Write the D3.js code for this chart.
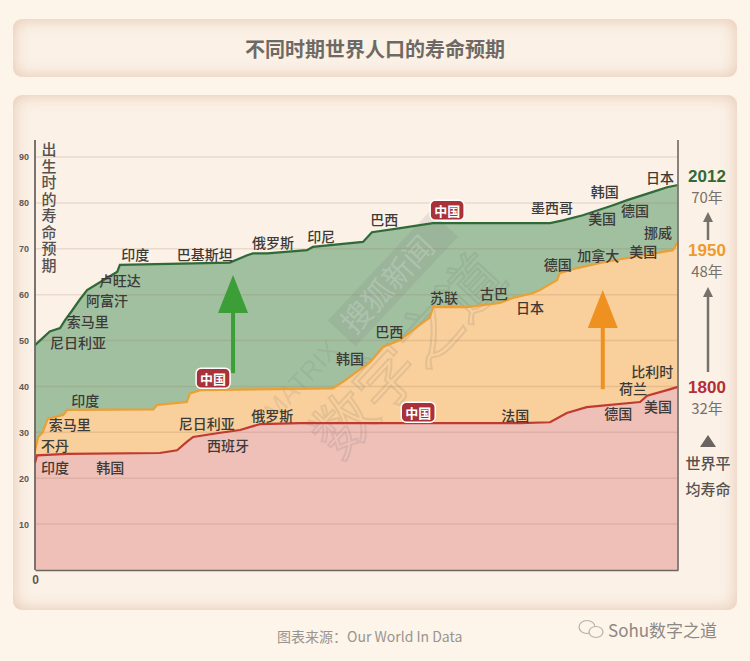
<!DOCTYPE html>
<html>
<head>
<meta charset="UTF-8">
<script src="https://d3js.org/d3.v7.min.js"></script>
<style>
    body {margin:0; background:#fdf4ea; width:750px; height:661px; overflow:hidden;
          font-family:"Noto Sans CJK SC", "Noto Sans", sans-serif;}
    .panel {position:absolute; left:13px; width:724px; border-radius:9px; background:#fbf1e6;
            box-shadow: inset 0 0 16px rgba(214,168,138,0.6);}
    #chart {position:absolute; left:0; top:0;}
    .tick text {font-family:"Liberation Sans", Arial, sans-serif; font-weight:bold; fill:#5f5853;}
    .lbl {font-size:14px; font-weight:500; fill:#3d3a37;}
</style>
</head>
<body>
<div class="panel" style="top:19px;height:58px"></div>
<div class="panel" style="top:95px;height:515px"></div>
<svg id="chart" width="750" height="661"></svg>
<script>
// cumulative share of world population (%) and life expectancy at birth (years)
const share2012 = [0, 2.3, 3.9, 4.7, 5.8, 7.0, 8.1, 10.1, 12.8, 13.2, 30.3, 33.0, 33.9, 36.1, 42.3, 43.2, 51.0, 52.4, 56.8, 61.9, 80.1, 82.1, 85.2, 89.9, 92.1, 96.1, 98.3, 100];
const life2012  = [49, 52, 52.7, 54.5, 56.6, 59, 61, 62.7, 65, 66.5, 67, 68.6, 69, 69, 69.7, 70.4, 71.5, 73.6, 74.5, 75.6, 75.6, 76.2, 77.3, 79.5, 80.6, 82.4, 83.4, 83.9];

const share1950 = [0, 0.5, 1.2, 2.0, 4.4, 5.0, 18.4, 19.0, 23.6, 24.1, 25.7, 46.3, 47.9, 52.1, 54.1, 56.8, 59.4, 61.4, 61.9, 67.2, 72.3, 74.3, 77.4, 78.5, 81.2, 81.6, 84.3, 87.9, 93.0, 99.2, 100];
const life1950  = [26, 29, 30, 33, 33.8, 34.9, 35, 36, 36.6, 38.5, 39.2, 39.6, 41, 45.3, 48.6, 50.1, 53, 55, 57.3, 57.3, 58.2, 59.3, 60.3, 61, 63.2, 64.7, 65.8, 66.9, 68.2, 69.7, 71.5];

const share1800 = [0, 0.3, 5.0, 19.4, 22.1, 23.6, 24.6, 28.3, 31.9, 34.5, 35.0, 41.2, 75.4, 80.1, 82.7, 85.8, 94.1, 95.2, 98.3, 100];
const life1800  = [23.3, 25, 25.3, 25.5, 26.1, 27.9, 29, 29.8, 30.5, 31.6, 31.8, 32, 32, 32.2, 34.2, 35.5, 36.6, 38, 39.2, 39.9];

const yTicks = [10, 20, 30, 40, 50, 60, 70, 80, 90];

// country labels: [name, share, life]
const labels2012 = [["尼日利亚", 6.7, 49.6], ["索马里", 8.2, 54.2], ["阿富汗", 11.2, 58.8], ["卢旺达", 13.2, 63.3],
    ["印度", 15.6, 68.9], ["巴基斯坦", 26.4, 68.9], ["俄罗斯", 37.0, 71.5], ["印尼", 44.5, 72.8], ["巴西", 54.3, 76.5],
    ["墨西哥", 80.4, 79.1], ["韩国", 88.6, 82.6], ["美国", 88.2, 76.7], ["德国", 93.3, 78.4], ["日本", 97.2, 85.6],
    ["挪威", 96.9, 73.7], ["美国", 94.6, 69.5], ["加拿大", 87.6, 68.6], ["德国", 81.3, 66.7]];
const labels1950 = [["日本", 77.0, 57.3], ["苏联", 63.6, 59.5], ["古巴", 71.4, 60.4], ["巴西", 55.1, 52.1], ["韩国", 49.0, 46.2],
    ["印度", 7.8, 37.0], ["索马里", 5.4, 31.8], ["不丹", 3.1, 27.2], ["尼日利亚", 26.7, 32.0], ["俄罗斯", 36.9, 33.8],
    ["法国", 74.7, 33.8], ["比利时", 96.0, 43.4], ["荷兰", 93.0, 39.7], ["德国", 90.7, 34.2], ["美国", 96.9, 35.7]];
const labels1800 = [["印度", 3.1, 22.4], ["韩国", 11.7, 22.4], ["西班牙", 30.0, 27.2]];
const chinaMarks = [[64.1, 78.4], [27.7, 41.8], [59.6, 34.4]];

// arrows: [share, from, to]
const arrowGreen = [30.8, 42.9, 64.3];
const arrowOrange = [88.3, 39.4, 61.0];

const svg = d3.select("#chart");

let x = d3.scaleLinear().domain([0, 100]).range([35, 678]);
let y = d3.scaleLinear().domain([0, 90]).range([570, 157]);

// title
svg.append("text").attr("x", 375).attr("y", 48).attr("text-anchor", "middle")
    .attr("dominant-baseline", "central")
    .style("font-size", "20px").style("font-weight", "bold").style("fill", "#6f6964")
    .text("不同时期世界人口的寿命预期");

function series(sh, lf) { return sh.map((s, i) => [s, lf[i]]); }
const s2012 = series(share2012, life2012),
      s1950 = series(share1950, life1950),
      s1800 = series(share1800, life1800);

let area = d3.area().x(d => x(d[0])).y0(y(0)).y1(d => y(d[1]));
let line = d3.line().x(d => x(d[0])).y(d => y(d[1]));

svg.append("path").attr("d", area(s2012)).attr("fill", "#a1c0a0");
svg.append("path").attr("d", area(s1950)).attr("fill", "#f9cf9b");
svg.append("path").attr("d", area(s1800)).attr("fill", "#efc0b8");

// gridlines
svg.append("g").selectAll("line").data(yTicks).join("line")
    .attr("x1", x(0)).attr("x2", x(100))
    .attr("y1", d => y(d)).attr("y2", d => y(d))
    .attr("stroke", "rgba(140,100,70,0.16)").attr("stroke-width", 1.5);

// watermark
let wm = svg.append("g").attr("transform", "translate(360,330) rotate(-47)").style("pointer-events", "none");
wm.append("text").attr("x", -125).attr("y", 0).style("font-size", "26px").style("fill", "rgba(110,110,110,0.13)")
    .style("font-family", "Liberation Sans").text("MATRIX");
wm.append("rect").attr("x", -15).attr("y", -30).attr("width", 150).attr("height", 38)
    .attr("fill", "rgba(110,110,110,0.13)");
wm.append("text").attr("x", -8).attr("y", 0).style("font-size", "30px").style("fill", "rgba(255,255,255,0.2)")
    .text("搜狐新闻");
wm.append("text").attr("x", -110).attr("y", 75).style("font-size", "62px")
    .style("fill", "none").style("stroke", "rgba(110,110,110,0.16)").style("stroke-width", 2)
    .text("数字之道");

svg.append("path").attr("d", line(s2012)).attr("fill", "none").attr("stroke", "#2f6a37").attr("stroke-width", 2.2);
svg.append("path").attr("d", line(s1950)).attr("fill", "none").attr("stroke", "#e9a035").attr("stroke-width", 2.2);
svg.append("path").attr("d", line(s1800)).attr("fill", "none").attr("stroke", "#bf3a30").attr("stroke-width", 2.2);

// axes
let yAxis = svg.append("g").attr("transform", "translate(29,0)")
    .call(d3.axisLeft(y).tickValues(yTicks).tickSize(0).tickPadding(0));
yAxis.select(".domain").remove();
yAxis.selectAll("text").style("font-size", "9px");

let xAxis = svg.append("g").attr("transform", "translate(0," + y(0) + ")")
    .call(d3.axisBottom(x).tickValues([0]).tickSize(0).tickPadding(5));
xAxis.select(".domain").attr("stroke", "#6d6661").attr("stroke-width", 1.5);
xAxis.selectAll("text").style("font-size", "12px");

svg.append("line").attr("x1", x(0)).attr("x2", x(0)).attr("y1", 140).attr("y2", y(0))
    .attr("stroke", "#6d6661").attr("stroke-width", 1.8);
svg.append("line").attr("x1", x(100)).attr("x2", x(100)).attr("y1", 140).attr("y2", y(0))
    .attr("stroke", "#7d7671").attr("stroke-width", 1.8);

// y axis title, written vertically
svg.append("text").attr("x", 49).attr("y", 142)
    .style("writing-mode", "vertical-rl").style("letter-spacing", "1.5px")
    .style("font-size", "15px").style("font-weight", "500").style("fill", "#57524e")
    .text("出生时的寿命预期");

// arrows
function arrow(a, color) {
    let g = svg.append("g");
    let tip = y(a[2]), xc = x(a[0]);
    g.append("line").attr("x1", xc).attr("x2", xc).attr("y1", y(a[1])).attr("y2", tip + 30)
        .attr("stroke", color).attr("stroke-width", 4);
    g.append("path").attr("d", `M${xc},${tip} L${xc - 15},${tip + 38} L${xc + 15},${tip + 38} Z`).attr("fill", color);
}
arrow(arrowGreen, "#3c9e37");
arrow(arrowOrange, "#ef9120");

// country labels
[labels2012, labels1950, labels1800].forEach(set => {
    svg.append("g").selectAll("text").data(set).join("text")
        .attr("class", "lbl")
        .attr("x", d => x(d[1])).attr("y", d => y(d[2]))
        .attr("text-anchor", "middle").attr("dominant-baseline", "central")
        .text(d => d[0]);
});

// China markers
let cm = svg.append("g").selectAll("g").data(chinaMarks).join("g")
    .attr("transform", d => `translate(${x(d[0])},${y(d[1])})`);
cm.append("rect").attr("x", -17).attr("y", -10).attr("width", 34).attr("height", 20).attr("rx", 5)
    .attr("fill", "#a9323a").attr("stroke", "#fff").attr("stroke-width", 1.5);
cm.append("text").attr("text-anchor", "middle").attr("dominant-baseline", "central")
    .style("font-size", "13px").style("font-weight", "bold").style("fill", "#fff").text("中国");

// right-hand summary
const years = ["2012", "1950", "1800"];
const yearAvg = ["70年", "48年", "32年"];
const yearColors = ["#2f6a37", "#ef9a2c", "#b42f34"];
const yearPos = [176, 250, 387];
let rs = svg.append("g");
years.forEach((yr, i) => {
    rs.append("text").attr("x", 707).attr("y", yearPos[i]).attr("text-anchor", "middle")
        .attr("dominant-baseline", "central").style("font-size", "17px").style("font-weight", "bold")
        .style("font-family", "Liberation Sans, sans-serif").style("fill", yearColors[i]).text(yr);
    rs.append("text").attr("x", 707).attr("y", yearPos[i] + 20).attr("text-anchor", "middle")
        .attr("dominant-baseline", "central").style("font-size", "15px").style("fill", "#77716c").text(yearAvg[i]);
});
[[240, 212], [372, 287]].forEach(a => {
    rs.append("line").attr("x1", 708).attr("x2", 708).attr("y1", a[0]).attr("y2", a[1] + 8)
        .attr("stroke", "#77716c").attr("stroke-width", 2.5);
    rs.append("path").attr("d", `M708,${a[1]} L703,${a[1] + 10} L713,${a[1] + 10} Z`).attr("fill", "#77716c");
});
rs.append("path").attr("d", "M708,435 L700,447 L716,447 Z").attr("fill", "#6a6460");
rs.append("text").attr("x", 708).attr("y", 462).attr("text-anchor", "middle").attr("dominant-baseline", "central")
    .style("font-size", "15px").style("font-weight", "500").style("fill", "#57524e").text("世界平");
rs.append("text").attr("x", 708).attr("y", 488).attr("text-anchor", "middle").attr("dominant-baseline", "central")
    .style("font-size", "15px").style("font-weight", "500").style("fill", "#57524e").text("均寿命");

// footer
svg.append("text").attr("x", 277).attr("y", 636).attr("dominant-baseline", "central")
    .style("font-size", "14px").style("fill", "#9a948f").text("图表来源：Our World In Data");
let wx = svg.append("g").attr("transform", "translate(592,629)");
wx.append("ellipse").attr("cx", -5).attr("cy", -2).attr("rx", 8).attr("ry", 6.5)
    .attr("fill", "none").attr("stroke", "#b5afaa").attr("stroke-width", 1.2);
wx.append("ellipse").attr("cx", 4).attr("cy", 3).attr("rx", 7).attr("ry", 5.5)
    .attr("fill", "#fdf4ea").attr("stroke", "#b5afaa").attr("stroke-width", 1.2);
svg.append("text").attr("x", 608).attr("y", 629).attr("dominant-baseline", "central")
    .style("font-size", "17px").style("fill", "#8e8883").text("Sohu数字之道");
</script>
</body>
</html>
